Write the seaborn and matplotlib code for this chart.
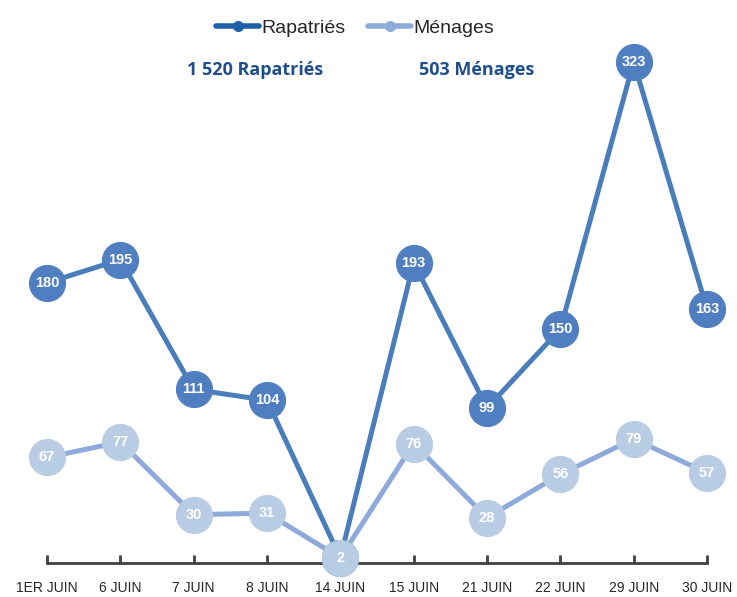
import matplotlib
matplotlib.use("Agg")
import matplotlib.pyplot as plt
from matplotlib.lines import Line2D
import seaborn as sns
import pandas as pd

dates = ["1ER JUIN", "6 JUIN", "7 JUIN", "8 JUIN", "14 JUIN", "15 JUIN",
         "21 JUIN", "22 JUIN", "29 JUIN", "30 JUIN"]
rapatries = [180, 195, 111, 104, 2, 193, 99, 150, 323, 163]
menages = [67, 77, 30, 31, 2, 76, 28, 56, 79, 57]

df = pd.DataFrame({
    "date": dates * 2,
    "pos": list(range(len(dates))) * 2,
    "valeur": rapatries + menages,
    "serie": ["Rapatriés"] * len(dates) + ["Ménages"] * len(dates),
})

sns.set_style("white")
plt.rcParams["font.family"] = ["Liberation Sans", "DejaVu Sans"]

fig = plt.figure(figsize=(7.37, 5.97), dpi=100)
ax = fig.add_axes([47 / 737, 36 / 597, 660 / 737, 561 / 597])

line_col = {"Rapatriés": "#4a7ebb", "Ménages": "#8eaadb"}
mark_col = {"Rapatriés": "#4f7fc0", "Ménages": "#b8cce4"}

# Ménages drawn last: its marker covers the shared point at 14 juin
for i, serie in enumerate(["Rapatriés", "Ménages"]):
    d = df[df.serie == serie]
    sns.lineplot(data=d, x="pos", y="valeur", ax=ax, color=line_col[serie],
                 linewidth=3.6, marker="o", markersize=26, zorder=2 + i,
                 markerfacecolor=mark_col[serie], markeredgecolor=mark_col[serie],
                 legend=False)
    for x, y in zip(d.pos, d.valeur):
        if serie == "Ménages":
            ax.text(x, y, str(y), ha="center", va="center", color="white",
                    fontsize=10.5, fontweight="bold", zorder=6,
                    bbox=dict(boxstyle="square,pad=0.3", fc=mark_col[serie], ec="none"))
        else:
            ax.text(x, y, str(y), ha="center", va="center", color="white",
                    fontsize=10.5, fontweight="bold", zorder=5)

ax.set_xlim(0, 9)
ax.set_ylim(0, 363)
ax.set_xticks(range(len(dates)))
ax.set_xticklabels(dates, fontsize=10, color="#222222")
ax.set_yticks([])
ax.set_xlabel("")
ax.set_ylabel("")
for s in ["top", "right", "left"]:
    ax.spines[s].set_visible(False)
ax.spines["bottom"].set_color("#404040")
ax.spines["bottom"].set_linewidth(2)
ax.spines["bottom"].set_position(("data", -1.5))
ax.spines["bottom"].set_zorder(1)
ax.tick_params(axis="x", bottom=True, direction="in", length=6, width=2,
               color="#404040", pad=13)
for a in ax.get_children():
    if isinstance(a, Line2D):
        a.set_clip_on(False)

handles = [
    Line2D([0], [0], color="#1f5fa8", lw=4, marker="o", markersize=7),
    Line2D([0], [0], color="#8eaadb", lw=4, marker="o", markersize=7),
]
fig.legend(handles, ["Rapatriés", "Ménages"], loc="center", bbox_to_anchor=(355 / 737, 1 - 28 / 597),
           ncol=2, frameon=False, fontsize=14, handlelength=2.2, handletextpad=0.1,
           columnspacing=1.2, labelcolor="#262626")

fig.text(255 / 737, 1 - 70 / 597, "1 520 Rapatriés", ha="center", va="center",
         fontsize=13, fontweight="bold", color="#1f4e8c", family=["Open Sans", "DejaVu Sans"])
fig.text(477 / 737, 1 - 70 / 597, "503 Ménages", ha="center", va="center",
         fontsize=13, fontweight="bold", color="#1f4e8c", family=["Open Sans", "DejaVu Sans"])

fig.savefig("out.png", dpi=100)
